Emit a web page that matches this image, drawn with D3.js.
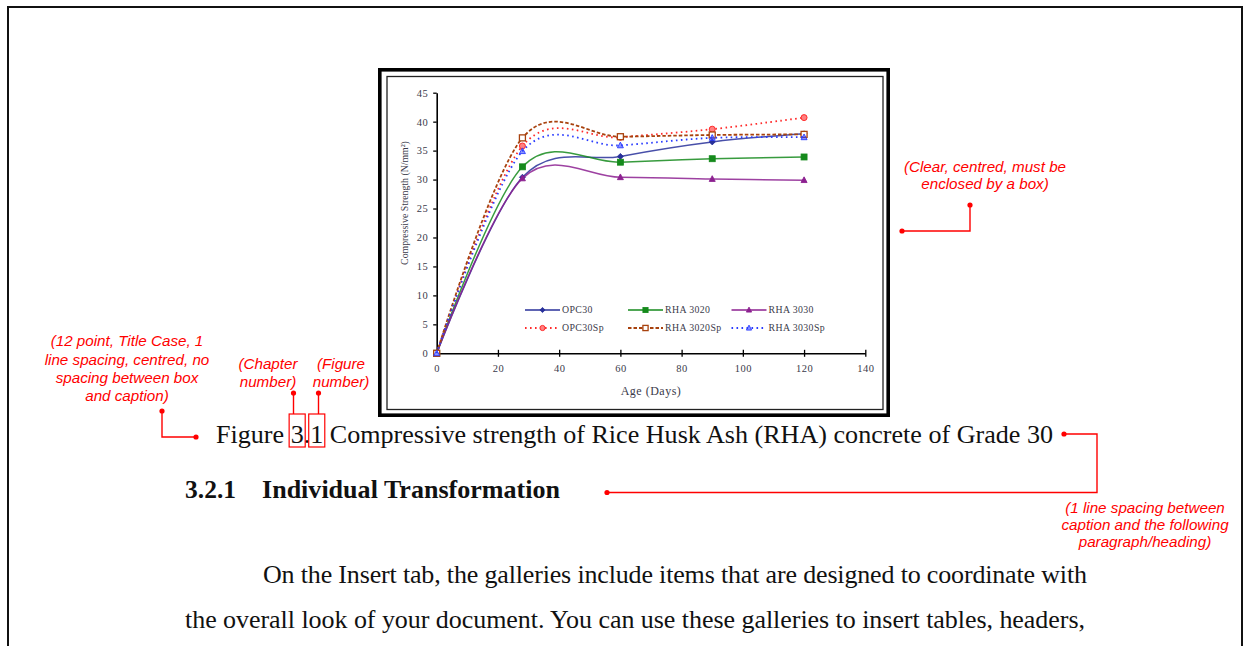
<!DOCTYPE html>
<html>
<head>
<meta charset="utf-8">
<script src="https://cdn.jsdelivr.net/npm/d3@7"></script>
<style>
  html, body { margin: 0; padding: 0; background: #fff; }
  svg { display: block; }
</style>
</head>
<body>
<svg id="chart" width="1244" height="646"></svg>
<script>
// ---------- data ----------
const days = [0, 28, 60, 90, 120];
const seriesNames = ["OPC30", "RHA 3020", "RHA 3030", "OPC30Sp", "RHA 3020Sp", "RHA 3030Sp"];
const opc30     = [0, 30.4, 34.0, 36.5, 37.9];
const rha3020   = [0, 32.2, 33.0, 33.6, 33.9];
const rha3030   = [0, 30.2, 30.4, 30.1, 29.9];
const opc30sp   = [0, 35.8, 37.3, 38.7, 40.7];
const rha3020sp = [0, 37.2, 37.4, 37.7, 37.8];
const rha3030sp = [0, 34.9, 35.9, 37.2, 37.3];
const xTicks = [0, 20, 40, 60, 80, 100, 120, 140];
const yTicks = [0, 5, 10, 15, 20, 25, 30, 35, 40, 45];
const xTitle = "Age (Days)";
const yTitle = "Compressive Strength (N/mm\u00B2)";
const caption = "Figure 3.1 Compressive strength of Rice Husk Ash (RHA) concrete of Grade 30";
const headingNum = "3.2.1";
const headingText = "Individual Transformation";
const paraLine1 = "On the Insert tab, the galleries include items that are designed to coordinate with";
const paraLine2 = "the overall look of your document. You can use these galleries to insert tables, headers,";

const seriesValues = [opc30, rha3020, rha3030, opc30sp, rha3020sp, rha3030sp];
const styles = [
  {color: "#28309a", dash: null,      marker: "diamond",  fill: true},
  {color: "#158a1c", dash: null,      marker: "square",   fill: true},
  {color: "#8c2090", dash: null,      marker: "triangle", fill: true},
  {color: "#ff2a2a", dash: "1.6,3.4", marker: "circle",   fill: true},
  {color: "#a8420e", dash: "3.5,2",   marker: "square",   fill: false},
  {color: "#2a3cff", dash: "1.6,3.4", marker: "triangle", fill: true}
];

const svg = d3.select("#chart");

// page frame
svg.append("rect").attr("x", 8).attr("y", 7).attr("width", 1234).attr("height", 700)
  .attr("fill", "none").attr("stroke", "#111").attr("stroke-width", 2);

// chart box (double border)
svg.append("rect").attr("x", 379.8).attr("y", 69.8).attr("width", 508.4).attr("height", 345.4)
  .attr("fill", "#fff").attr("stroke", "#000").attr("stroke-width", 3.6);
svg.append("rect").attr("x", 387).attr("y", 76.5).attr("width", 496).attr("height", 333)
  .attr("fill", "none").attr("stroke", "#222").attr("stroke-width", 1.3);

// scales
const x = d3.scaleLinear().domain([0, 140]).range([436.7, 865.3]);
const y = d3.scaleLinear().domain([0, 45]).range([353.3, 92.7]);

const tickFont = "'Liberation Serif', 'Times New Roman', serif";
const txtCol = "#3a3a4a";

// y axis
const yAxis = svg.append("g").attr("transform", `translate(${x(0)},0)`)
  .call(d3.axisLeft(y).tickValues(yTicks).tickSize(3.5).tickSizeOuter(0).tickPadding(5));
yAxis.select(".domain").attr("stroke", "#000").attr("stroke-width", 1.6);
yAxis.selectAll(".tick line").attr("stroke", "#000").attr("stroke-width", 1.3);
yAxis.selectAll(".tick text").attr("font-family", tickFont).attr("font-size", 10.5)
  .attr("letter-spacing", 0.5).attr("fill", txtCol);

// x axis with crossing ticks
const xAxis = svg.append("g").attr("transform", `translate(0,${y(0)})`)
  .call(d3.axisBottom(x).tickValues(xTicks).tickSize(3.5).tickSizeOuter(0).tickPadding(8));
xAxis.select(".domain").attr("stroke", "#000").attr("stroke-width", 1.6);
xAxis.selectAll(".tick line").attr("y1", -3.5).attr("stroke", "#000").attr("stroke-width", 1.3);
xAxis.selectAll(".tick text").attr("font-family", tickFont).attr("font-size", 10.5)
  .attr("letter-spacing", 0.5).attr("fill", txtCol);

// axis titles
svg.append("text").attr("x", 651).attr("y", 395).attr("text-anchor", "middle")
  .attr("font-family", tickFont).attr("font-size", 12).attr("letter-spacing", 0.5).attr("fill", txtCol).text(xTitle);
svg.append("text").attr("transform", `translate(408,203) rotate(-90)`).attr("text-anchor", "middle")
  .attr("font-family", tickFont).attr("font-size", 9.8).attr("fill", txtCol).text(yTitle);

// lines
const line = d3.line().x(d => x(d[0])).y(d => y(d[1])).curve(d3.curveCardinal.tension(0));

function drawMarker(g, st, cx, cy, s) {
  const fill = st.fill ? st.color : "#fff";
  if (st.marker === "diamond") {
    g.append("path").attr("d", `M${cx},${cy-s}L${cx+s},${cy}L${cx},${cy+s}L${cx-s},${cy}Z`)
      .attr("fill", fill).attr("stroke", st.color).attr("stroke-width", 0.8);
  } else if (st.marker === "square") {
    g.append("rect").attr("x", cx - s).attr("y", cy - s).attr("width", 2*s).attr("height", 2*s)
      .attr("fill", fill).attr("stroke", st.color).attr("stroke-width", st.fill ? 0.8 : 1.3);
  } else if (st.marker === "triangle") {
    g.append("path").attr("d", `M${cx},${cy-s*1.1}L${cx+s},${cy+s*0.8}L${cx-s},${cy+s*0.8}Z`)
      .attr("fill", fill).attr("fill-opacity", st.dash ? 0.55 : 1).attr("stroke", st.color).attr("stroke-width", 0.9);
  } else {
    g.append("circle").attr("cx", cx).attr("cy", cy).attr("r", s)
      .attr("fill", "#ff8080").attr("stroke", st.color).attr("stroke-width", 1);
  }
}

seriesValues.forEach((vals, i) => {
  const st = styles[i];
  const pts = days.map((d, j) => [d, vals[j]]);
  const p = svg.append("path").attr("d", line(pts)).attr("fill", "none")
    .attr("stroke", st.color).attr("stroke-width", st.dash ? 1.8 : 1.5)
    .attr("stroke-opacity", st.dash ? 1 : 0.85);
  if (st.dash) p.attr("stroke-dasharray", st.dash);
  const g = svg.append("g");
  pts.forEach(pt => drawMarker(g, st, x(pt[0]), y(pt[1]), 3));
});

// legend
const legX = [525, 628, 731.5];
const legY = [310, 328];
seriesNames.forEach((name, i) => {
  const st = styles[i];
  const lx = legX[i % 3], ly = legY[Math.floor(i / 3)];
  const l = svg.append("line").attr("x1", lx).attr("x2", lx + 35).attr("y1", ly).attr("y2", ly)
    .attr("stroke", st.color).attr("stroke-width", st.dash ? 1.8 : 1.5);
  if (st.dash) l.attr("stroke-dasharray", st.dash);
  drawMarker(svg.append("g"), st, lx + 17.5, ly, 2.6);
  svg.append("text").attr("x", lx + 37).attr("y", ly + 3.3).attr("font-family", tickFont)
    .attr("font-size", 9.8).attr("letter-spacing", 0.4).attr("fill", txtCol).text(name);
});

// ---------- document text ----------
const docFont = "'Liberation Serif', 'Times New Roman', serif";
const capText = svg.append("text").attr("x", 216).attr("y", 443)
  .attr("font-family", docFont).attr("font-size", 26.1).attr("fill", "#111").text(caption);

svg.append("text").attr("x", 185).attr("y", 498).attr("font-family", docFont).attr("font-size", 25.5)
  .attr("font-weight", "bold").attr("fill", "#111").text(headingNum);
svg.append("text").attr("x", 262).attr("y", 498).attr("font-family", docFont).attr("font-size", 25.5)
  .attr("font-weight", "bold").attr("fill", "#111").attr("textLength", 298).attr("lengthAdjust", "spacingAndGlyphs").text(headingText);
svg.append("text").attr("x", 263).attr("y", 583).attr("font-family", docFont).attr("font-size", 26)
  .attr("fill", "#111").attr("textLength", 824).attr("lengthAdjust", "spacing").text(paraLine1);
svg.append("text").attr("x", 185).attr("y", 628).attr("font-family", docFont).attr("font-size", 26)
  .attr("fill", "#111").attr("textLength", 900).attr("lengthAdjust", "spacing").text(paraLine2);

// ---------- red annotations ----------
const red = "#f00";
const annFont = "'Liberation Sans', Arial, sans-serif";
function annLines(lines, cx, ys) {
  lines.forEach((t, i) => svg.append("text").attr("x", cx).attr("y", ys[i]).attr("text-anchor", "middle")
    .attr("font-family", annFont).attr("font-style", "italic").attr("font-size", 15.2).attr("fill", red).text(t));
}
function leader(pts) {
  svg.append("path").attr("d", d3.line()(pts)).attr("fill", "none").attr("stroke", red).attr("stroke-width", 1.4);
  [pts[0], pts[pts.length - 1]].forEach(p => svg.append("circle").attr("cx", p[0]).attr("cy", p[1]).attr("r", 2.6).attr("fill", red));
}

annLines(["(Clear, centred, must be", "enclosed by a box)"], 985, [172, 189]);
leader([[970, 205], [970, 231], [902, 231]]);

annLines(["(12 point, Title Case, 1", "line spacing, centred, no", "spacing between box", "and caption)"], 127, [346, 364.5, 382.5, 401]);
leader([[162, 411], [162, 437], [196, 437]]);

annLines(["(Chapter", "number)"], 268, [368.5, 387]);
annLines(["(Figure", "number)"], 341, [368.5, 387]);

// boxes around chapter / figure numbers
const cn = capText.node();
const dotX = [293.5, 318.5];
[7, 9].forEach((idx, k) => {
  const ext = cn.getExtentOfChar(idx);
  const bx = ext.x - 1.5, bw = ext.width + 3;
  svg.append("rect").attr("x", bx).attr("y", 414).attr("width", bw).attr("height", 33)
    .attr("fill", "none").attr("stroke", red).attr("stroke-width", 1.2);
  const dx = dotX[k];
  svg.append("line").attr("x1", dx).attr("x2", dx).attr("y1", 393).attr("y2", 414)
    .attr("stroke", red).attr("stroke-width", 1.4);
  svg.append("circle").attr("cx", dx).attr("cy", 393).attr("r", 2.6).attr("fill", red);
});

annLines(["(1 line spacing between", "caption and the following", "paragraph/heading)"], 1145, [512.5, 529.5, 547]);
leader([[1064, 434], [1097, 434], [1097, 492.5], [607, 492.5]]);
</script>
</body>
</html>
